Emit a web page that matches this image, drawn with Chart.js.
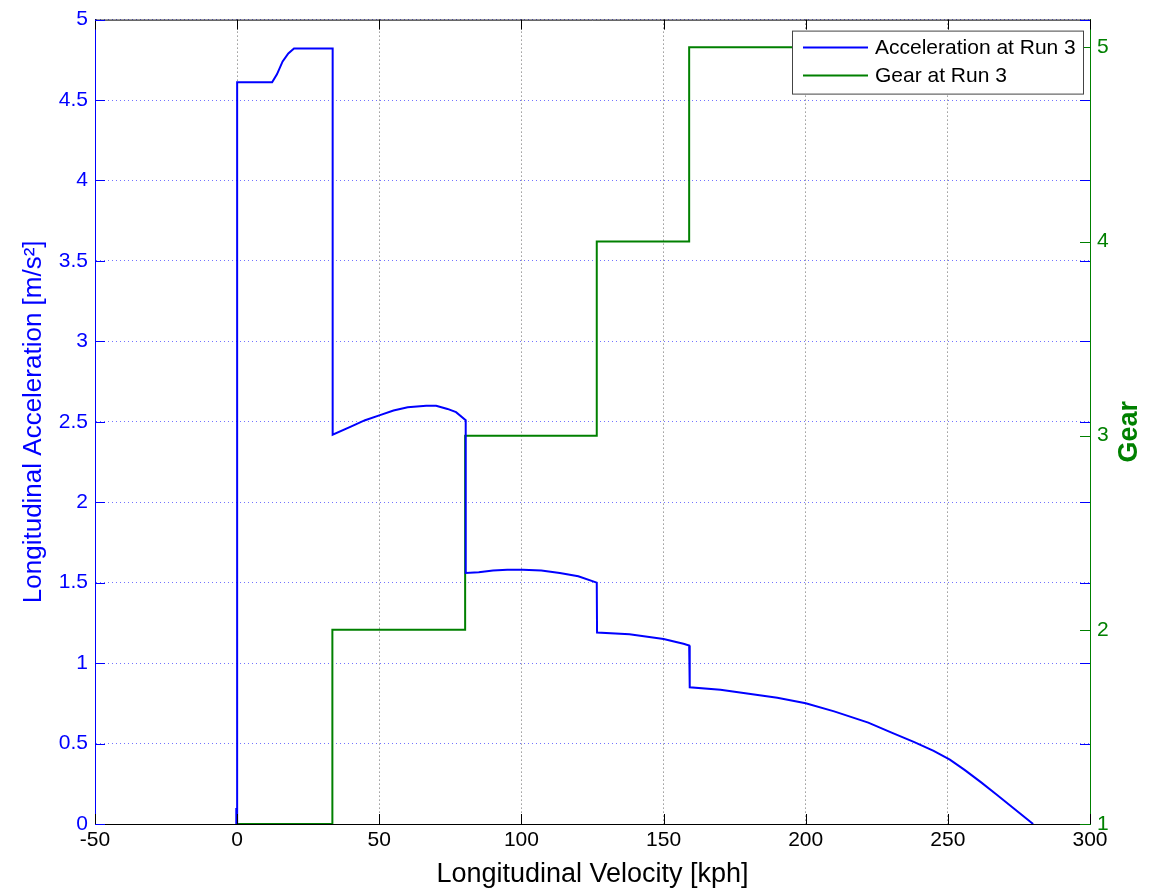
<!DOCTYPE html>
<html>
<head>
<meta charset="utf-8">
<script src="https://cdn.jsdelivr.net/npm/chart.js@4/dist/chart.umd.min.js"></script>
<style>
  body { margin: 0; background: #fff; }
</style>
</head>
<body>
<canvas id="myChart" width="1150" height="895"></canvas>
<script>
// acceleration vs velocity
const accVelocity = [-0.3, -0.3, 0, 0, 12.3, 14, 16, 18, 20, 33.6, 33.6, 40, 45, 50, 55, 60, 66.5, 70, 74, 77, 80.4, 80.4,
    85, 90, 95, 100.5, 107, 113.5, 120, 126.5, 126.6, 138, 150, 157, 159, 159.2,
    170, 180, 190, 200, 210, 222, 230, 238, 245, 250.7, 256, 261.6, 267, 273, 280];
const accValues = [0.1, 0, 0, 4.61, 4.61, 4.66, 4.74, 4.79, 4.82, 4.82, 2.42, 2.47, 2.51, 2.54, 2.57, 2.59, 2.60, 2.60, 2.58, 2.56, 2.51, 1.56,
    1.565, 1.575, 1.58, 1.58, 1.575, 1.56, 1.54, 1.50, 1.19, 1.18, 1.15, 1.12, 1.11, 0.85,
    0.835, 0.81, 0.785, 0.75, 0.70, 0.63, 0.57, 0.51, 0.455, 0.40, 0.335, 0.26, 0.185, 0.10, 0];

// gear shift points
const gearVelocity = [0, 33.5, 80.2, 126.5, 159, 280];
const gearValues = [1, 2, 3, 4, 5, 5];

const xTicks = [-50, 0, 50, 100, 150, 200, 250, 300];
const accTicks = [0, 0.5, 1, 1.5, 2, 2.5, 3, 3.5, 4, 4.5, 5];
const gearTicks = [1, 2, 3, 4, 5];

const BLUE = '#0000ff';
const GREEN = '#008000';
const FONT = "'Liberation Sans', Arial, sans-serif";

function toPoints(xs, ys) {
    return xs.map((x, i) => ({ x: x, y: ys[i] }));
}

function setTicks(values) {
    return scale => { scale.ticks = values.map(v => ({ value: v })); };
}

// inward tick marks, top border, right title and the boxed legend
const matlabBox = {
    id: 'matlabBox',
    afterDraw(chart) {
        const ctx = chart.ctx;
        const area = chart.chartArea;
        const x = chart.scales.x, y = chart.scales.y, y2 = chart.scales.y2;
        ctx.save();
        ctx.lineWidth = 1;

        ctx.strokeStyle = '#000';
        ctx.beginPath();
        ctx.moveTo(area.left, area.top + 0.5);
        ctx.lineTo(area.right, area.top + 0.5);
        for (const v of xTicks) {
            const px = Math.round(x.getPixelForValue(v)) + 0.5;
            ctx.moveTo(px, area.bottom);
            ctx.lineTo(px, area.bottom - 10);
            ctx.moveTo(px, area.top);
            ctx.lineTo(px, area.top + 10);
        }
        ctx.stroke();

        ctx.strokeStyle = BLUE;
        ctx.beginPath();
        for (const v of accTicks) {
            const py = Math.round(y.getPixelForValue(v)) + 0.5;
            ctx.moveTo(area.left, py);
            ctx.lineTo(area.left + 10, py);
            ctx.moveTo(area.right, py);
            ctx.lineTo(area.right - 10, py);
        }
        ctx.stroke();

        ctx.strokeStyle = GREEN;
        ctx.beginPath();
        for (const v of gearTicks) {
            const py = Math.round(y2.getPixelForValue(v)) + 0.5;
            ctx.moveTo(area.right, py);
            ctx.lineTo(area.right - 10, py);
        }
        ctx.stroke();

        // right axis title, reads bottom to top
        ctx.save();
        ctx.translate(1130, (area.top + area.bottom) / 2 + 10);
        ctx.rotate(-Math.PI / 2);
        ctx.font = 'bold 27px ' + FONT;
        ctx.fillStyle = GREEN;
        ctx.textAlign = 'center';
        ctx.textBaseline = 'middle';
        ctx.fillText('Gear', 0, 0);
        ctx.restore();

        // legend
        const bx = area.right - 298, by = area.top + 11, bw = 291, bh = 63;
        ctx.fillStyle = '#fff';
        ctx.fillRect(bx, by, bw, bh);
        ctx.strokeStyle = '#444';
        ctx.strokeRect(bx + 0.5, by + 0.5, bw, bh);
        ctx.font = '21px ' + FONT;
        ctx.textBaseline = 'middle';
        chart.data.datasets.forEach((ds, i) => {
            const ly = by + 17 + i * 28;
            ctx.strokeStyle = ds.borderColor;
            ctx.lineWidth = 2;
            ctx.beginPath();
            ctx.moveTo(bx + 11, ly);
            ctx.lineTo(bx + 76, ly);
            ctx.stroke();
            ctx.fillStyle = '#000';
            ctx.fillText(ds.label, bx + 83, ly + 1);
        });
        ctx.restore();
    }
};

const ctx = document.getElementById('myChart');
new Chart(ctx, {
    type: 'line',
    data: {
        datasets: [{
            label: 'Acceleration at Run 3',
            data: toPoints(accVelocity, accValues),
            borderColor: BLUE,
            borderWidth: 2,
            pointRadius: 0,
            tension: 0,
            yAxisID: 'y'
        }, {
            label: 'Gear at Run 3',
            data: toPoints(gearVelocity, gearValues),
            borderColor: GREEN,
            borderWidth: 2,
            pointRadius: 0,
            stepped: 'before',
            yAxisID: 'y2'
        }]
    },
    options: {
        responsive: false,
        animation: false,
        layout: { padding: { top: 15 } },
        plugins: {
            legend: { display: false },
            tooltip: { enabled: false }
        },
        scales: {
            x: {
                type: 'linear',
                min: -50,
                max: 300,
                afterBuildTicks: setTicks(xTicks),
                afterFit: s => { s.height = 71; },
                ticks: { color: '#000', font: { family: FONT, size: 21 }, padding: 4, maxRotation: 0,
                    callback: v => String(v) },
                grid: { color: '#666', drawTicks: false },
                border: { color: '#000', width: 1, dash: [1, 3] },
                title: {
                    display: true,
                    text: 'Longitudinal Velocity [kph]',
                    color: '#000',
                    font: { family: FONT, size: 27 },
                    padding: { top: 0, bottom: 4 }
                }
            },
            y: {
                position: 'left',
                min: 0,
                max: 5,
                afterBuildTicks: setTicks(accTicks),
                afterFit: s => { s.width = 95; },
                ticks: { color: BLUE, font: { family: FONT, size: 21 }, padding: 7,
                    callback: v => String(v) },
                grid: { color: 'rgba(0,0,255,0.55)', drawTicks: false },
                border: { color: BLUE, width: 1, dash: [1, 3] },
                title: {
                    display: true,
                    text: 'Longitudinal Acceleration [m/s²]',
                    color: BLUE,
                    font: { family: FONT, size: 26 },
                    padding: { top: 18, bottom: 0 }
                }
            },
            y2: {
                position: 'right',
                min: 1,
                max: 5.143,
                afterBuildTicks: setTicks(gearTicks),
                afterFit: s => { s.width = 60; },
                ticks: { color: GREEN, font: { family: FONT, size: 21 }, padding: 7,
                    callback: v => String(v) },
                grid: { display: false, drawTicks: false },
                border: { color: GREEN, width: 1 }
            }
        }
    },
    plugins: [matlabBox]
});
</script>
</body>
</html>
